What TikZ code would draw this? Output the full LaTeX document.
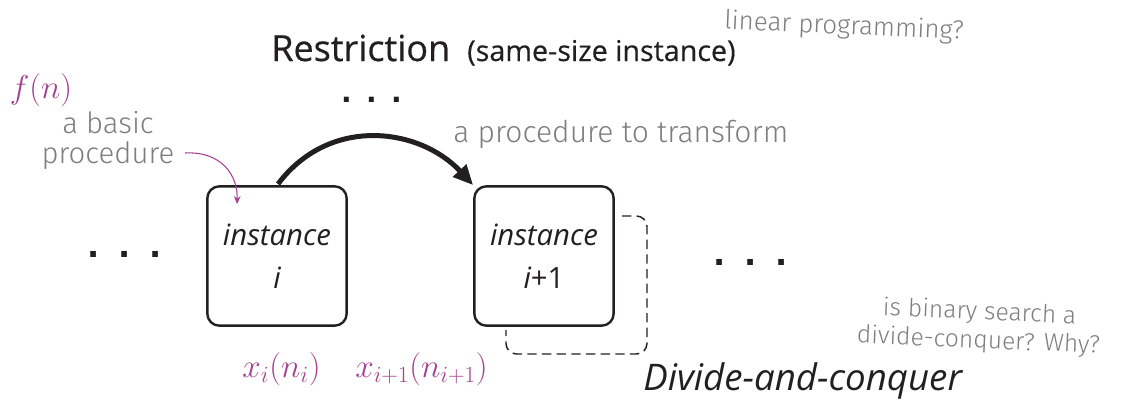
\documentclass[tikz,border=0pt]{standalone}
\usepackage{fontspec}
\setmainfont{Open Sans}
\newfontfamily\dotfont{DejaVu Sans}
\IfFontExistsTF{Fira Sans Light}{\newfontfamily\hand{Fira Sans Light}}{\newfontfamily\hand{Fira Sans}}
\usetikzlibrary{arrows.meta}
\definecolor{mag}{RGB}{163,64,143}
\definecolor{hgray}{RGB}{125,125,125}
\definecolor{ink}{RGB}{35,31,32}
\newcommand{\dotrow}[1]{\makebox[#1]{.}\makebox[#1]{.}\makebox[#1]{.}}
\begin{document}
\begin{tikzpicture}[x=0.75pt,y=-0.75pt,
  instbox/.style={draw=ink, line width=1.8pt, rounded corners=9pt, minimum width=104.5pt, minimum height=104.5pt, fill=white, inner sep=0pt, align=center, text=ink, font=\fontsize{22}{32}\selectfont\itshape},
  handnote/.style={text=hgray, font=\hand\fontsize{19.5}{22.5}\selectfont, align=center, inner sep=0pt},
  mathlbl/.style={text=mag, font=\fontsize{23}{28}\selectfont, inner sep=0pt},
  dotsA/.style={text=ink, font=\dotfont\bfseries\fontsize{24}{24}\selectfont, inner sep=0pt},
  dotsB/.style={text=ink, font=\dotfont\bfseries\fontsize{21}{21}\selectfont, inner sep=0pt}]
\useasboundingbox (0,0) rectangle (1131,401);

% title
\node[anchor=base west, inner sep=0pt, text=ink, font=\fontsize{27}{30}\selectfont\addfontfeature{FakeBold=0.5}] (restr) at (271,61) {Restriction};
\node[anchor=base west, inner sep=0pt, text=ink, font=\fontsize{21.5}{24}\selectfont\addfontfeature{FakeBold=0.4}] (same) at (467,61) {(same-size instance)};
\node[dotsB] (dtop) at (371.5,100) {\dotrow{18.75pt}};

% notes
\node[handnote, rotate=-2.5] (lp) at (844,27) {linear programming?};
\node[mathlbl] (fn) at (41,90.5) {$f(n)$};
\node[handnote, font=\hand\fontsize{22}{22.5}\selectfont] (basic) at (108,140) {a basic\\procedure};
\node[handnote, anchor=base west, font=\hand\fontsize{22.5}{24}\selectfont] (transf) at (453,142) {a procedure to transform};

% dashed box behind instance i+1
\draw[ink, line width=1.1pt, rounded corners=8pt, dash pattern=on 7pt off 4pt]
  (622,216) -- (647,216) -- (647,354) -- (506,354) -- (506,330);

% boxes
\node[instbox] (b1) at (277,256) {instance\\i};
\node[instbox] (b2) at (544,256) {instance\\i{\upshape+1}};

% side dots
\node[dotsA] (dleft) at (124.5,254.5) {\dotrow{23.25pt}};
\node[dotsA] (dright) at (751,262.5) {\dotrow{23.25pt}};

% arrows
\coordinate (s1) at (278,184);
\coordinate (e1) at (b2.north west);
\draw[ink, line width=3.75pt, -{Triangle[length=15pt,width=13pt]}]
  (s1) .. controls (330,115) and (420,128) .. (e1);
\coordinate (s2) at (185,153);
\coordinate (e2) at (237,204);
\draw[mag, line width=0.8pt, -{Stealth[length=6pt,width=5pt]}]
  (s2) .. controls (222,151) and (238,176) .. (e2);

% labels below
\node[mathlbl] (xi) at (281.5,369) {$x_i(n_i)$};
\node[mathlbl] (xi1) at (421.5,369) {$x_{i+1}(n_{i+1})$};
\node[anchor=base west, inner sep=0pt, text=ink, font=\fontsize{27.5}{30}\selectfont\itshape] (dc) at (643,390) {Divide-and-conquer};
\node[handnote, rotate=-2.5, font=\hand\fontsize{18.5}{21.5}\selectfont] (bs) at (979,327) {is binary search a\\divide-conquer? Why?};
\end{tikzpicture}
\end{document}
